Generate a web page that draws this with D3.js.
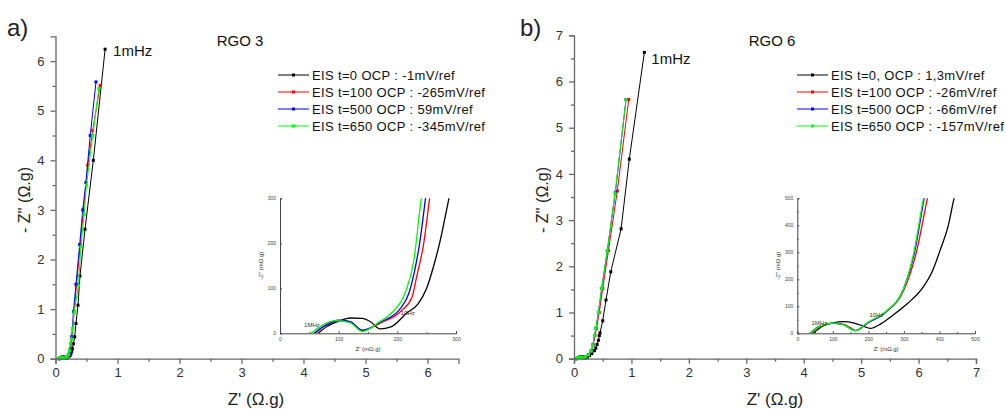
<!DOCTYPE html>
<html><head><meta charset="utf-8">
<script src="https://cdn.jsdelivr.net/npm/d3@7"></script>
<style>
body{margin:0;background:#fff;}
svg{font-family:"Liberation Sans",Arial,sans-serif;}
</style></head>
<body>
<svg id="chart" width="1006" height="412"></svg>
<script>
// ---------- DATA (Z', -Z'' in Ω.g) ----------
const seriesNames = ["t0","t100","t500","t650"];
const seriesColors = ["#000000","#ff0000","#0000ff","#00ff00"];

const legendA = ["EIS t=0 OCP : -1mV/ref","EIS t=100 OCP : -265mV/ref","EIS t=500 OCP : 59mV/ref","EIS t=650 OCP : -345mV/ref"];
const legendB = ["EIS t=0, OCP : 1,3mV/ref","EIS t=100 OCP : -26mV/ref","EIS t=500 OCP : -66mV/ref","EIS t=650 OCP : -157mV/ref"];

// Panel a) RGO 3
const a_t0   = [[0.065,0],[0.08,0.015],[0.1,0.027],[0.12,0.034],[0.14,0.033],[0.155,0.025],[0.17,0.01],[0.19,0.015],[0.216,0.045],[0.235,0.065],[0.25,0.1],[0.262,0.15],[0.272,0.2],[0.288,0.3],[0.31,0.44],[0.33,0.71],[0.363,1.08],[0.395,1.67],[0.476,2.61],[0.61,4.0],[0.80,6.24]];
const a_t100 = [[0.06,0],[0.075,0.015],[0.1,0.028],[0.12,0.025],[0.14,0.006],[0.17,0.022],[0.207,0.05],[0.225,0.08],[0.233,0.126],[0.245,0.2],[0.255,0.3],[0.27,0.45],[0.3,0.95],[0.34,1.5],[0.4,2.3],[0.45,3.0],[0.52,3.9],[0.6,4.6],[0.72,5.51]];
const a_t500 = [[0.058,0],[0.075,0.016],[0.1,0.029],[0.12,0.026],[0.14,0.007],[0.17,0.024],[0.205,0.055],[0.22,0.09],[0.228,0.13],[0.238,0.2],[0.248,0.3],[0.262,0.45],[0.29,0.95],[0.33,1.5],[0.39,2.3],[0.44,3.0],[0.49,3.55],[0.56,4.5],[0.653,5.58]];
const a_t650 = [[0.053,0],[0.07,0.016],[0.095,0.028],[0.12,0.023],[0.14,0.004],[0.17,0.026],[0.19,0.045],[0.213,0.089],[0.228,0.16],[0.241,0.3],[0.26,0.39],[0.277,0.61],[0.30,0.94],[0.37,1.47],[0.41,2.26],[0.46,2.9],[0.5,3.5],[0.6,4.5],[0.70,5.45]];

// Panel b) RGO 6
const b_t0   = [[0.045,0],[0.07,0.025],[0.1,0.038],[0.13,0.043],[0.16,0.038],[0.185,0.027],[0.205,0.018],[0.235,0.035],[0.27,0.068],[0.31,0.11],[0.355,0.173],[0.38,0.23],[0.402,0.308],[0.425,0.4],[0.441,0.5],[0.453,0.56],[0.5,0.82],[0.557,1.27],[0.64,1.88],[0.82,2.81],[0.963,4.32],[1.225,6.63]];
const b_t100 = [[0.04,0],[0.06,0.022],[0.1,0.037],[0.13,0.033],[0.15,0.02],[0.165,0.01],[0.2,0.04],[0.25,0.08],[0.3,0.16],[0.335,0.3],[0.366,0.5],[0.39,0.65],[0.44,1.0],[0.5,1.52],[0.6,2.34],[0.754,3.63],[0.953,5.61]];
const b_t500 = [[0.036,0],[0.06,0.025],[0.1,0.038],[0.13,0.032],[0.163,0.01],[0.2,0.04],[0.25,0.08],[0.3,0.168],[0.33,0.3],[0.357,0.5],[0.383,0.66],[0.425,1.0],[0.482,1.52],[0.58,2.34],[0.72,3.6],[0.906,5.61]];
const b_t650 = [[0.036,0],[0.06,0.024],[0.1,0.038],[0.13,0.031],[0.163,0.01],[0.2,0.042],[0.25,0.082],[0.3,0.167],[0.328,0.3],[0.355,0.5],[0.383,0.66],[0.425,1.0],[0.482,1.52],[0.58,2.34],[0.714,3.58],[0.906,5.61]];

const ticksA = [0,1,2,3,4,5,6];
const ticksB = [0,1,2,3,4,5,6,7];
const insetTicksA = [0,100,200,300];
const insetTicksB = [0,100,200,300,400,500];

// ---------- DRAW ----------
const svg = d3.select("#chart");
const axisColor = "#666";
const labelColor = "#333";

function mainAxes(g, x, y, ticks) {
  const minors = d3.range(0.5, ticks[ticks.length-1]+0.01, 1);
  const xa = g.append("g").attr("transform",`translate(0,${y(0)})`)
    .call(d3.axisBottom(x).tickValues(ticks).tickFormat(d3.format("d")).tickSize(5).tickPadding(4));
  const xm = g.append("g").attr("transform",`translate(0,${y(0)})`)
    .call(d3.axisBottom(x).tickValues(minors.filter(v=>v<=x.domain()[1])).tickFormat("").tickSize(3));
  const ya = g.append("g").attr("transform",`translate(${x(0)},0)`)
    .call(d3.axisLeft(y).tickValues(ticks).tickFormat(d3.format("d")).tickSize(5).tickPadding(6));
  const ym = g.append("g").attr("transform",`translate(${x(0)},0)`)
    .call(d3.axisLeft(y).tickValues(minors.filter(v=>v<=y.domain()[1])).tickFormat("").tickSize(3));
  [xa,xm,ya,ym].forEach(s=>{
    s.selectAll("path,line").attr("stroke",axisColor).attr("stroke-width",1.3);
    s.selectAll("text").attr("fill",labelColor).style("font-size","13px").style("font-family","Liberation Sans, Arial, sans-serif");
  });
  xm.select("path").remove(); ym.select("path").remove();
}

function insetAxes(g, x, y, ticks) {
  const xa = g.append("g").attr("transform",`translate(0,${y(0)})`)
    .call(d3.axisBottom(x).tickValues(ticks).tickSize(-2).tickPadding(4));
  const ya = g.append("g").attr("transform",`translate(${x(0)},0)`)
    .call(d3.axisLeft(y).tickValues(ticks).tickSize(-2).tickPadding(4));
  const step = ticks[1]-ticks[0];
  const minors = ticks.slice(0,-1).map(v=>v+step/2);
  const xm = g.append("g").attr("transform",`translate(0,${y(0)})`)
    .call(d3.axisBottom(x).tickValues(minors).tickFormat("").tickSize(-1.2));
  const ym = g.append("g").attr("transform",`translate(${x(0)},0)`)
    .call(d3.axisLeft(y).tickValues(minors).tickFormat("").tickSize(-1.2));
  [xa,ya,xm,ym].forEach(s=>{
    s.selectAll("path,line").attr("stroke","#444").attr("stroke-width",1);
    s.selectAll("text").attr("fill","#444").style("font-size","5px");
  });
  xm.select("path").remove(); ym.select("path").remove();
}

function panel(cfg) {
  const g = svg.append("g");
  const x = d3.scaleLinear().domain([0,cfg.xmax]).range(cfg.xr);
  const y = d3.scaleLinear().domain([0,cfg.ymax]).range(cfg.yr);
  const line = d3.line().x(d=>x(d[0])).y(d=>y(d[1]));

  cfg.data.forEach((s,i)=>{
    g.append("path").datum(s).attr("d",line).attr("fill","none")
      .attr("stroke",seriesColors[i]).attr("stroke-width",1);
    g.selectAll(null).data(s).enter().append("rect")
      .attr("x",d=>x(d[0])-1.5).attr("y",d=>y(d[1])-1.5)
      .attr("width",3).attr("height",3).attr("fill",seriesColors[i]);
  });
  mainAxes(g,x,y,cfg.ticks);

  // labels
  g.append("text").attr("x",cfg.panelLabel.x).attr("y",cfg.panelLabel.y).text(cfg.panelLabel.t)
    .style("font-size","24px").attr("fill","#222");
  g.append("text").attr("x",cfg.title.x).attr("y",cfg.title.y).text(cfg.title.t)
    .attr("text-anchor","middle").style("font-size","15px").attr("fill","#111");
  g.append("text").attr("x",cfg.xlab.x).attr("y",cfg.xlab.y).text("Z' (Ω.g)")
    .attr("text-anchor","middle").style("font-size","17px").attr("fill","#222");
  g.append("text").attr("transform",`translate(${cfg.ylab.x},${cfg.ylab.y}) rotate(-90)`).text("- Z'' (Ω.g)")
    .attr("text-anchor","middle").style("font-size","16px").attr("fill","#222");
  const top = cfg.data[0][cfg.data[0].length-1];
  g.append("text").attr("x",x(top[0])+cfg.mhzDx).attr("y",y(top[1])+cfg.mhzDy).text("1mHz")
    .style("font-size","15px").attr("fill","#111");

  // legend
  cfg.legend.forEach((t,i)=>{
    const ly = cfg.legendPos.y + i*17;
    g.append("line").attr("x1",cfg.legendPos.x).attr("x2",cfg.legendPos.x+31).attr("y1",ly).attr("y2",ly)
      .attr("stroke",seriesColors[i]).attr("stroke-width",1);
    g.append("rect").attr("x",cfg.legendPos.x+14).attr("y",ly-1.5).attr("width",3).attr("height",3).attr("fill",seriesColors[i]);
    g.append("text").attr("x",cfg.legendPos.x+34).attr("y",ly+4.5).text(t)
      .style("font-size","13px").style("letter-spacing","0.35px").attr("fill","#111");
  });

  // inset
  const ix = d3.scaleLinear().domain([0,cfg.inset.max]).range(cfg.inset.xr);
  const iy = d3.scaleLinear().domain([0,cfg.inset.max]).range(cfg.inset.yr);
  const clipId = "clip"+cfg.id;
  svg.append("clipPath").attr("id",clipId).append("rect")
    .attr("x",cfg.inset.xr[0]).attr("y",cfg.inset.yr[1])
    .attr("width",cfg.inset.xr[1]-cfg.inset.xr[0]).attr("height",cfg.inset.yr[0]-cfg.inset.yr[1]);
  const ig = g.append("g");
  const iline = d3.line().x(d=>ix(d[0]*1000)).y(d=>iy(d[1]*1000)).curve(d3.curveMonotoneX);
  const clipped = ig.append("g").attr("clip-path",`url(#${clipId})`);
  cfg.data.forEach((s,i)=>{
    clipped.append("path").datum(s).attr("d",iline).attr("fill","none")
      .attr("stroke",seriesColors[i]).attr("stroke-width",1.3);
  });
  insetAxes(ig,ix,iy,cfg.inset.ticks);
  ig.append("text").attr("x",(cfg.inset.xr[0]+cfg.inset.xr[1])/2).attr("y",cfg.inset.yr[0]+18)
    .text("Z' (mΩ.g)").attr("text-anchor","middle").style("font-size","6px").attr("fill","#333");
  ig.append("text").attr("transform",`translate(${cfg.inset.xr[0]-17},${(cfg.inset.yr[0]+cfg.inset.yr[1])/2}) rotate(-90)`)
    .text("-Z'' (mΩ.g)").attr("text-anchor","middle").style("font-size","6px").attr("fill","#333");
  cfg.inset.notes.forEach(n=>{
    ig.append("text").attr("x",ix(n.x)).attr("y",iy(n.y)).text(n.t).style("font-size","6px").attr("fill","#333");
  });
}

panel({
  id:"a", data:[a_t0,a_t100,a_t500,a_t650], xmax:6.5, ymax:6.5,
  xr:[55.5,458.5], yr:[358.7,36.3], ticks:ticksA,
  panelLabel:{x:7,y:36,t:"a)"}, title:{x:240,y:46,t:"RGO 3"},
  xlab:{x:256,y:405}, ylab:{x:30,y:200}, mhzDx:8, mhzDy:7,
  legend:legendA, legendPos:{x:278,y:75},
  inset:{max:300, xr:[280,456], yr:[333.3,198.3], ticks:insetTicksA,
    notes:[{x:41,y:14,t:"1MHz"},{x:206,y:40,t:"10Hz"}]}
});

panel({
  id:"b", data:[b_t0,b_t100,b_t500,b_t650], xmax:7, ymax:7,
  xr:[574,976], yr:[358.7,35.3], ticks:ticksB,
  panelLabel:{x:520,y:36,t:"b)"}, title:{x:772,y:46,t:"RGO 6"},
  xlab:{x:775,y:405}, ylab:{x:548,y:200}, mhzDx:7, mhzDy:12,
  legend:legendB, legendPos:{x:797,y:75},
  inset:{max:500, xr:[797.3,975], yr:[333.3,198.3], ticks:insetTicksB,
    notes:[{x:40,y:32,t:"1MHz"},{x:203,y:62,t:"10Hz"}]}
});
</script>
</body></html>
